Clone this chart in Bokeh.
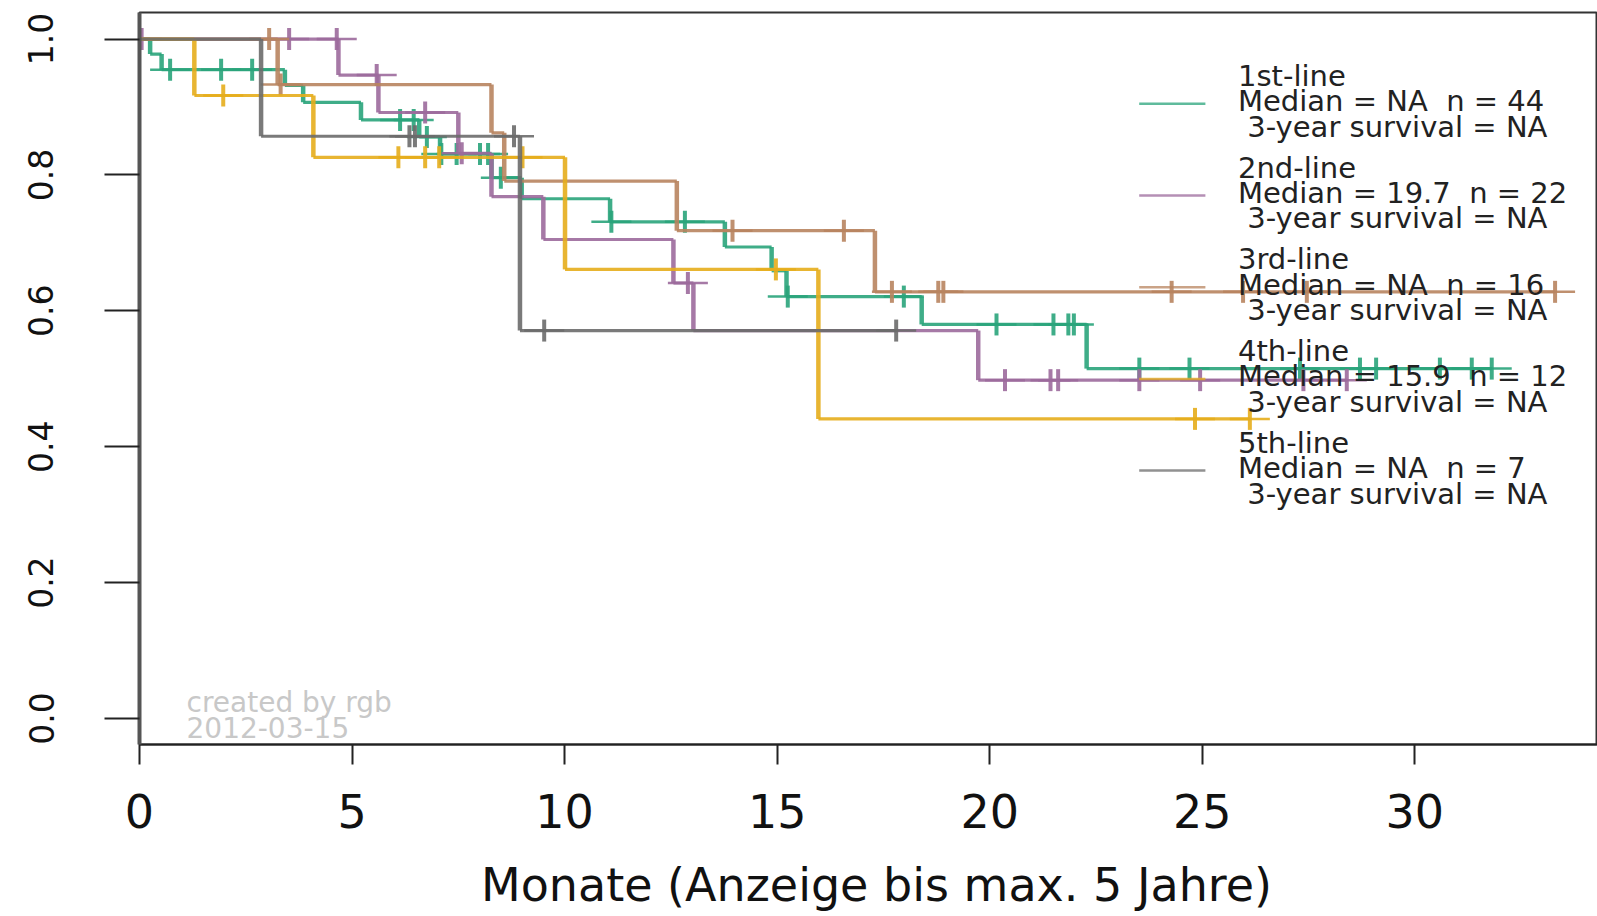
import numpy as np
from bisect import bisect_right
from bokeh.plotting import figure
from bokeh.layouts import column
from bokeh.models import Range1d, FixedTicker, PrintfTickFormatter
from bokeh.core.properties import value
from bokeh.embed import file_html
from bokeh.resources import INLINE

# ---------------- data ----------------
groups = ["1st-line", "2nd-line", "3rd-line", "4th-line", "5th-line"]
medians = ["NA", "19.7", "NA", "15.9", "NA"]
n_patients = [44, 22, 16, 12, 7]
surv_3y = ["NA", "NA", "NA", "NA", "NA"]
x_title = "Monate (Anzeige bis max. 5 Jahre)"

# 1st-line
g1_event_t = [0.25, 0.52, 3.42, 3.85, 5.21, 6.58, 7.07, 8.28, 8.99, 11.07, 13.77, 14.87, 15.22, 18.40, 22.28]
g1_event_s = [0.978, 0.955, 0.932, 0.907, 0.881, 0.856, 0.831, 0.796, 0.765, 0.731, 0.694, 0.659, 0.621, 0.580, 0.515]
g1_cens_t = [0.72, 1.92, 2.65, 6.13, 6.45, 6.76, 7.10, 7.46, 8.01, 8.20, 8.50, 11.10, 12.83, 15.25, 17.98,
             20.16, 21.50, 21.85, 21.98, 23.52, 24.70, 27.30, 28.71, 29.09, 30.59, 31.34, 31.81]
# 2nd-line
g2_event_t = [4.68, 5.62, 7.50, 8.28, 9.50, 12.56, 13.03, 19.73]
g2_event_s = [0.947, 0.892, 0.832, 0.768, 0.705, 0.641, 0.571, 0.498]
g2_cens_t = [0.05, 3.52, 4.64, 5.58, 6.72, 7.58, 12.90, 20.36, 21.43, 21.61, 23.52, 24.95, 27.38, 28.40]
# 3rd-line
g3_event_t = [3.25, 8.28, 8.58, 12.64, 17.30]
g3_event_s = [0.933, 0.862, 0.791, 0.718, 0.628]
g3_cens_t = [3.05, 3.32, 13.95, 16.57, 17.70, 18.79, 18.91, 24.28, 25.96, 27.46, 33.30]
# 4th-line
g4_event_t = [1.29, 4.09, 10.01, 15.97]
g4_event_s = [0.917, 0.826, 0.661, 0.441]
g4_cens_t = [1.97, 6.09, 6.72, 7.05, 9.01, 14.97, 24.83, 26.12]
# 5th-line
g5_event_t = [2.86, 8.95]
g5_event_s = [0.857, 0.571]
g5_cens_t = [6.35, 6.48, 8.81, 9.52, 17.80]

event_times = [g1_event_t, g2_event_t, g3_event_t, g4_event_t, g5_event_t]
event_surv = [g1_event_s, g2_event_s, g3_event_s, g4_event_s, g5_event_s]
censor_times = [g1_cens_t, g2_cens_t, g3_cens_t, g4_cens_t, g5_cens_t]

x_ticks = [0, 5, 10, 15, 20, 25, 30]
y_ticks = [0.0, 0.2, 0.4, 0.6, 0.8, 1.0]

# ---------------- styles ----------------
colors = ["#2aa47b", "#9c6a9c", "#b8845f", "#e6ad1c", "#6c6c6c"]
FONT = "DejaVu Sans"

W, H_TOTAL = 1597, 916
H = 850                 # main figure; the x title strip goes below it
BL, BT, BB = 139, 12, 106
frame_w = W - BL
frame_h = H - BT - BB
px_per_x = 42.51
px_per_y = 679.4
Y0_PX = 718.0          # page y of survival 0
X0_PX = float(BL)      # page x of month 0
x_end = frame_w / px_per_x
y_top = (Y0_PX - BT) / px_per_y
y_bot = -(BT + frame_h - Y0_PX) / px_per_y

def px2x(px):
    return (px - X0_PX) / px_per_x
def px2y(py):
    return (Y0_PX - py) / px_per_y

p = figure(width=W, height=H, output_backend="svg", toolbar_location=None,
           x_range=Range1d(0, x_end), y_range=Range1d(y_bot, y_top),
           min_border_left=BL, min_border_top=BT, min_border_bottom=BB, min_border_right=0)
p.grid.visible = False
p.outline_line_color = "#333333"
p.outline_line_width = 2
p.background_fill_color = "white"
p.border_fill_color = "white"

# axes
p.xaxis.ticker = FixedTicker(ticks=x_ticks)
p.yaxis.ticker = FixedTicker(ticks=y_ticks)
p.yaxis.formatter = PrintfTickFormatter(format="%.1f")
for ax in (p.xaxis, p.yaxis):
    ax.minor_tick_line_color = None
    ax.major_tick_in = 0
    ax.major_tick_line_color = "#222222"
    ax.major_tick_line_width = 2
    ax.major_label_text_font = FONT
    ax.major_label_text_color = "#111111"
p.xaxis.major_tick_out = 20
p.xaxis.major_label_standoff = 29
p.xaxis.major_label_text_font_size = "46px"
p.xaxis.axis_line_color = "#222222"
p.xaxis.axis_line_width = 2
p.yaxis.major_tick_out = 35
p.yaxis.major_label_standoff = 51
p.yaxis.major_label_text_font_size = "33px"
p.yaxis.major_label_orientation = "vertical"
p.yaxis.axis_line_color = "#555555"
p.yaxis.axis_line_width = 4

# curves
for i in range(len(groups)):
    et, es, ct = event_times[i], event_surv[i], censor_times[i]
    end = max(et + ct)
    starts = [0.0] + et
    levels = [1.0] + es
    ends = et + [end]
    c = colors[i]
    # horizontal parts
    p.segment(x0=starts, y0=levels, x1=ends, y1=levels, line_color=c, line_width=3.2, line_alpha=0.9)
    # vertical parts
    p.segment(x0=et, y0=levels[:-1], x1=et, y1=es, line_color=c, line_width=4.5, line_alpha=0.9)
    # censoring marks (+)
    cy = [levels[bisect_right(et, t)] for t in ct]
    p.scatter(x=ct, y=cy, marker="dash", size=40, line_color=c, line_width=2.5, line_alpha=0.9)
    p.scatter(x=ct, y=cy, marker="dash", angle=np.pi / 2, size=22, line_color=c, line_width=4, line_alpha=0.9)

# ---------------- legend (pixel layout -> data coordinates) ----------------
leg_top = 75.4
leg_gap = 91.7
row_gap = 25.4
LEG_FS = "29px"
for i in range(len(groups)):
    ytop = leg_top + i * leg_gap
    p.text(x=[px2x(1237.5)], y=[px2y(ytop)], text=[groups[i]],
           text_font=value(FONT), text_font_size=LEG_FS, text_color="#222222",
           text_baseline="middle", text_align="left")
    p.text(x=[px2x(1237.5)], y=[px2y(ytop + row_gap)],
           text=["Median = %s\u00a0 n = %d" % (medians[i], n_patients[i])],
           text_font=value(FONT), text_font_size=LEG_FS, text_color="#222222",
           text_baseline="middle", text_align="left")
    p.text(x=[px2x(1246.7)], y=[px2y(ytop + 2 * row_gap)],
           text=["3-year survival = %s" % surv_3y[i]],
           text_font=value(FONT), text_font_size=LEG_FS, text_color="#222222",
           text_baseline="middle", text_align="left")
    ly = px2y(ytop + row_gap + 2.5)
    p.segment(x0=[px2x(1138.7)], y0=[ly], x1=[px2x(1204.9)], y1=[ly],
              line_color=colors[i], line_width=2.5, line_alpha=0.75)

# watermark
p.text(x=[px2x(186), px2x(186)], y=[px2y(702), px2y(727)], text=["created by rgb", "2012-03-15"],
       text_font=value(FONT), text_font_size="28px", text_color="#c8c8c8",
       text_baseline="middle", text_align="left")

# ---------------- x-axis title strip (page pixels as coordinates) ----------------
# its frame is given the same left border as the main plot, so x maps to page pixels
H2 = H_TOTAL - H
t = figure(width=W, height=H2, output_backend="svg", toolbar_location=None,
           x_axis_location=None, y_axis_location=None,
           x_range=Range1d(BL, W), y_range=Range1d(0, H2),
           min_border_left=BL, min_border_right=0, min_border_top=0, min_border_bottom=0)
t.grid.visible = False
t.outline_line_color = None
t.border_fill_color = "white"
t.background_fill_color = "white"
t.text(x=[876], y=[H_TOTAL - 884], text=[x_title], text_font=value(FONT), text_font_size="46px",
       text_color="#111111", text_align="center", text_baseline="middle")

open("out.html", "w").write(file_html(column(p, t, spacing=0), INLINE))
